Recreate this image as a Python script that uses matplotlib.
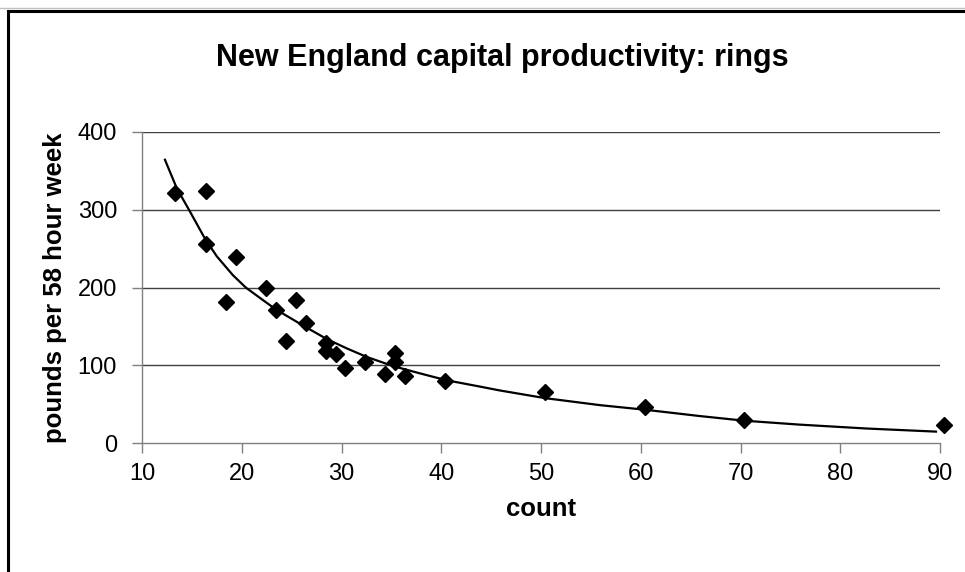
import numpy as np
import matplotlib
matplotlib.use('Agg')
import matplotlib.pyplot as plt
from matplotlib.patches import Rectangle
from matplotlib.lines import Line2D

plt.rcParams['font.family'] = ['Liberation Sans', 'DejaVu Sans']

# observed points (count, pounds per 58 hour week)
count = [13.3, 16.4, 16.4, 18.4, 19.4, 22.4, 23.4, 24.4, 25.4, 26.4, 28.4, 28.4,
         29.4, 30.4, 32.4, 34.4, 35.4, 35.4, 36.4, 40.4, 50.4, 60.4, 70.4, 90.4]
pounds = [321, 324, 256, 182, 239, 200, 171, 131, 184, 154, 129, 118,
          115, 97, 105, 89, 116, 105, 86, 80, 66, 46, 30, 23]

# trend line
trend_x = [12.3, 13.5, 14.7, 16.3, 17.5, 19.1, 20.4, 22.0, 23.4, 26.3, 28.5, 30.5,
           32.5, 35.2, 37.8, 40.5, 43.8, 45.8, 50.4, 55.9, 60.5, 65.9, 70.4, 75.9,
           82.6, 89.6]
trend_y = [364, 327, 300, 263, 240, 216, 200, 185, 172, 150, 134, 122,
           111, 99, 90, 81, 73, 68, 58, 49, 43, 35, 29, 24,
           19, 15]

xticks = [10, 20, 30, 40, 50, 60, 70, 80, 90]
yticks = [0, 100, 200, 300, 400]

fig = plt.figure(figsize=(9.65, 5.72), dpi=100)
ax = fig.add_axes([142/965, 1-443.3/572, 798/965, 311.6/572])

# outer chart frame (cut off at right and bottom edges)
fig.lines.append(Line2D([0, 1], [1-8/572, 1-8/572], transform=fig.transFigure,
                        color='#c0c0c0', linewidth=1.0))
fig.patches.append(Rectangle((8/965, -0.1), 1.2, 1-10.5/572+0.1, transform=fig.transFigure,
                             fill=False, edgecolor='black', linewidth=2.2))

for v in yticks[1:]:
    ax.axhline(v, color='#404040', linewidth=1.0, zorder=1)

ax.plot(trend_x, trend_y, color='black', linewidth=1.6, zorder=2)
ax.plot(count, pounds, linestyle='none', marker='D', markersize=8.5,
        color='black', zorder=3, clip_on=False)

ax.set_xlim(10, 90)
ax.set_ylim(0, 400)
ax.set_xticks(xticks)
ax.set_yticks(yticks)
for s in ['top', 'right']:
    ax.spines[s].set_visible(False)
for s in ['left', 'bottom']:
    ax.spines[s].set_color('#808080')
    ax.spines[s].set_linewidth(1.0)
ax.tick_params(axis='both', direction='out', length=7, width=1.0, color='#808080',
               labelsize=17, labelcolor='black')
ax.tick_params(axis='y', pad=11)
ax.tick_params(axis='x', pad=7)

ax.set_xlabel('count', fontsize=18.5, fontweight='bold', labelpad=9)
ax.set_ylabel('pounds per 58 hour week', fontsize=18.5, fontweight='bold', labelpad=8)
fig.text(0.521, 0.899, 'New England capital productivity: rings', ha='center', va='center',
         fontsize=22, fontweight='bold')

fig.savefig('out.png', dpi=100)
